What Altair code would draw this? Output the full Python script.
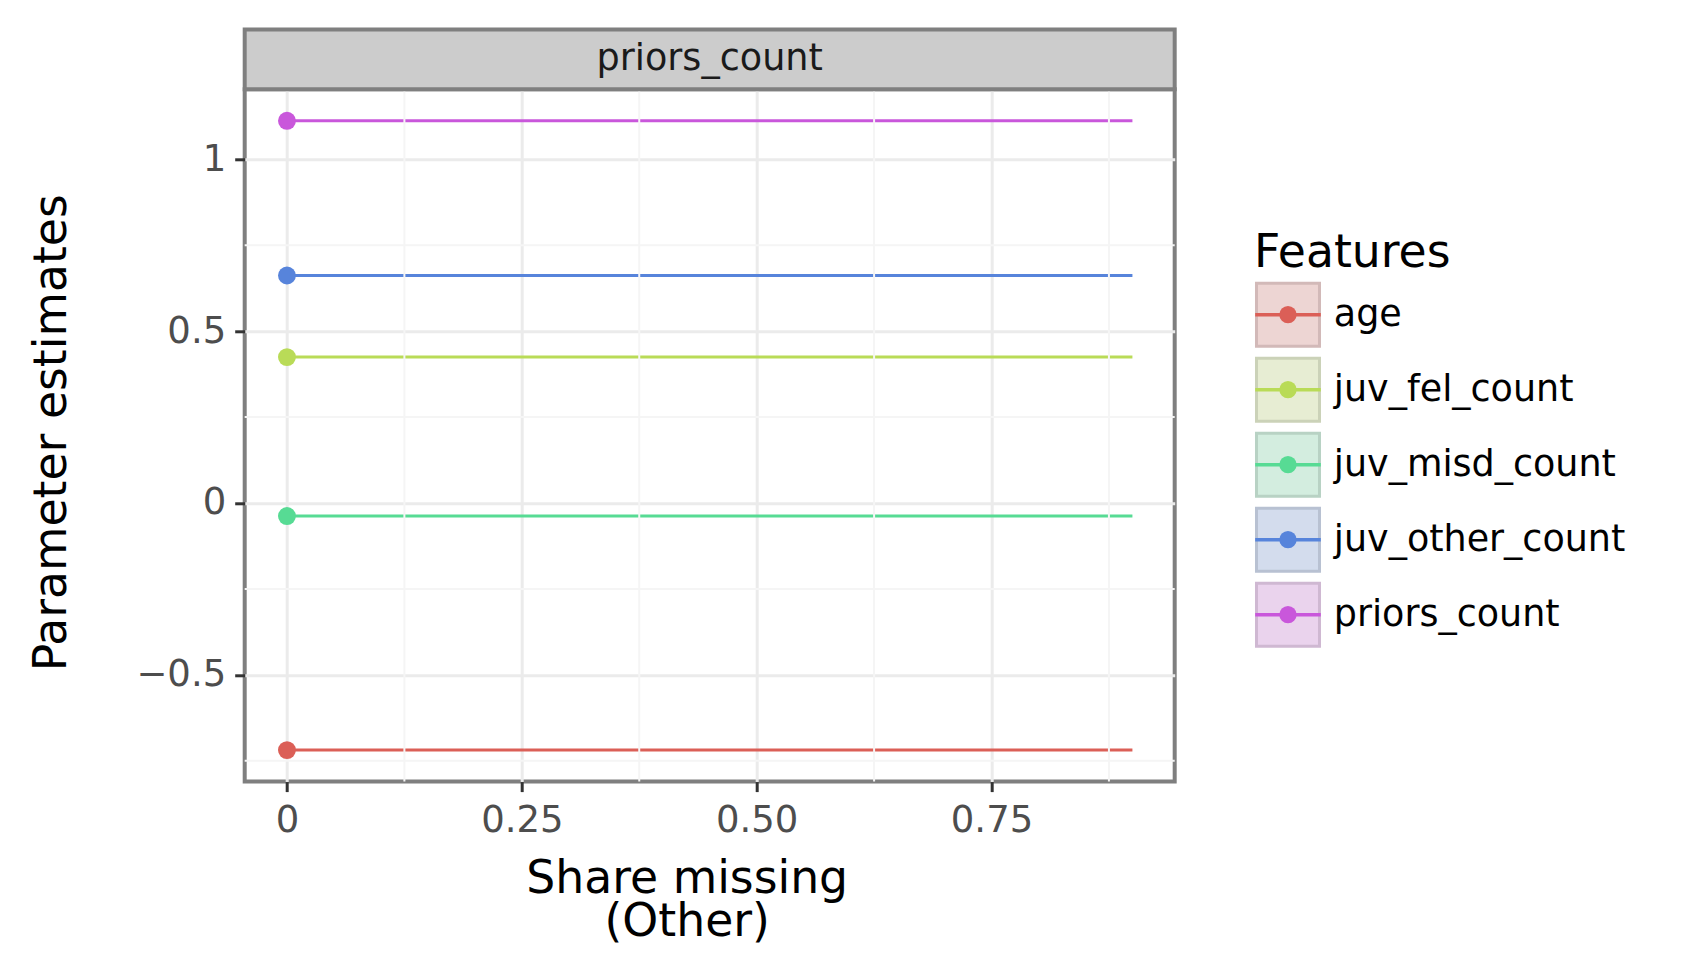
import altair as alt
import pandas as pd

# ---------------- data ----------------
features = ["age", "juv_fel_count", "juv_misd_count", "juv_other_count", "priors_count"]
estimates = [-0.719, 0.4245, -0.038, 0.662, 1.112]
share_start = [0.0, 0.0, 0.0, 0.0, 0.0]
share_end = [0.9, 0.9, 0.9, 0.9, 0.9]
colors = ["#db5f57", "#b9db57", "#57db94", "#5784db", "#c957db"]
facet_label = "priors_count"
legend_title = "Features"
x_ticks = [0, 0.25, 0.5, 0.75]
y_ticks = [-0.5, 0, 0.5, 1]
x_title = ["Share missing", "(Other)"]
y_title = "Parameter estimates"

# ---------------- helpers ----------------
def blend(hex_color, base, alpha):
    c = [int(hex_color[i:i + 2], 16) for i in (1, 3, 5)]
    b = [int(base[i:i + 2], 16) for i in (1, 3, 5)]
    m = [round(bb * (1 - alpha) + cc * alpha) for cc, bb in zip(c, b)]
    return "#%02x%02x%02x" % tuple(m)

rows = []
for f, e, s0, s1 in zip(features, estimates, share_start, share_end):
    rows.append({"feature": f, "share": s0, "estimate": e})
    rows.append({"feature": f, "share": s1, "estimate": e})
line_df = pd.DataFrame(rows)
point_df = pd.DataFrame({"feature": features, "share": share_start, "estimate": estimates})

x_dom = [-0.045, 0.945]
y_dom = [-0.8106, 1.2037]
xs = x_ticks[1] - x_ticks[0]
ys = y_ticks[1] - y_ticks[0]
x_minor = [t - xs / 2 for t in x_ticks] + [x_ticks[-1] + xs / 2]
x_minor = [v for v in x_minor if x_dom[0] < v < x_dom[1]]
y_minor = [t - ys / 2 for t in y_ticks] + [y_ticks[-1] + ys / 2]
y_minor = [v for v in y_minor if y_dom[0] < v < y_dom[1]]

legend_df = pd.DataFrame({
    "feature": features,
    "fill_hex": [blend(c, "#f2f2f2", 0.2) for c in colors],
    "stroke_hex": [blend(c, "#d0d0d0", 0.2) for c in colors],
})
strip_df = pd.DataFrame({"label": [facet_label]})
ltitle_df = pd.DataFrame({"label": [legend_title]})

W, H = 930, 692.3
FONT = "DejaVu Sans"
TITLE_FS = 45.7
TICK_FS = 37

color_enc = alt.Color("feature:N", scale=alt.Scale(domain=features, range=colors), legend=None)

x_enc = alt.X(
    "share:Q",
    scale=alt.Scale(domain=x_dom, nice=False, zero=False),
    axis=alt.Axis(
        values=x_ticks,
        labelExpr="datum.value == 0 ? '0' : format(datum.value, '.2f')",
        title=x_title, titleFontSize=TITLE_FS, titleFontWeight="normal", titleColor="#000000",
        titleLineHeight=43, titleX=442, titleY=110.5, titleBaseline="alphabetic",
        labelFontSize=TICK_FS, labelColor="#4d4d4d", labelPadding=11,
        tickColor="#333333", tickSize=10, tickWidth=3,
        domain=False, grid=True, gridColor="#ebebeb", gridWidth=3,
    ),
)
y_enc = alt.Y(
    "estimate:Q",
    scale=alt.Scale(domain=y_dom, nice=False, zero=False),
    axis=alt.Axis(
        values=y_ticks, format="~g",
        title=y_title, titleFontSize=TITLE_FS, titleFontWeight="normal", titleColor="#000000",
        titleX=-179.4, titleY=343, titleBaseline="alphabetic",
        labelFontSize=TICK_FS, labelColor="#4d4d4d", labelPadding=9,
        tickColor="#333333", tickSize=10, tickWidth=3,
        domain=False, grid=True, gridColor="#ebebeb", gridWidth=3,
    ),
)

minor_x = alt.Chart(pd.DataFrame({"share": x_minor})).mark_rule(
    color="#f5f5f5", strokeWidth=2
).encode(x=x_enc)
minor_y = alt.Chart(pd.DataFrame({"estimate": y_minor})).mark_rule(
    color="#f5f5f5", strokeWidth=2
).encode(y=y_enc)

lines = alt.Chart(line_df).mark_line(strokeWidth=3).encode(
    x=x_enc, y=y_enc, color=color_enc, detail="feature:N"
)
points = alt.Chart(point_df).mark_circle(size=320, opacity=1).encode(
    x=x_enc, y=y_enc, color=color_enc
)

strip_rect = alt.Chart(strip_df).mark_rect(
    fill="#cccccc", stroke="#7f7f7f", strokeWidth=4
).encode(x=alt.value(0), x2=alt.value(W), y=alt.value(-59.7), y2=alt.value(0))
strip_text = alt.Chart(strip_df).mark_text(
    fontSize=36.6, color="#1a1a1a", align="center", baseline="middle", font=FONT
).encode(x=alt.value(W / 2), y=alt.value(-30.5), text="label:N")

main = alt.layer(lines, points, minor_x, minor_y, strip_rect, strip_text)

# ---------------- legend (own scales) ----------------
ly = alt.Y("feature:N", scale=alt.Scale(type="point", domain=features,
                                        range=[225.4, 525.4], padding=0), axis=None)
leg_box = alt.Chart(legend_df).mark_square(size=3969, strokeWidth=3, opacity=1, filled=True).encode(
    x=alt.value(1043.3), y=ly,
    fill=alt.Fill("fill_hex:N", scale=None),
    stroke=alt.Stroke("stroke_hex:N", scale=None),
)
leg_line = alt.Chart(legend_df).mark_rule(strokeWidth=3.5).encode(
    x=alt.value(1010.5), x2=alt.value(1076.1), y=ly, color=color_enc
)
leg_pt = alt.Chart(legend_df).mark_circle(size=300, opacity=1).encode(
    x=alt.value(1043.3), y=ly, color=color_enc
)
leg_txt = alt.Chart(legend_df).mark_text(
    fontSize=36.5, color="#000000", align="left", baseline="middle", font=FONT
).encode(x=alt.value(1089.1), y=ly, text="feature:N")
leg_title = alt.Chart(ltitle_df).mark_text(
    fontSize=TITLE_FS, color="#000000", align="left", baseline="alphabetic", font=FONT
).encode(x=alt.value(1009.3), y=alt.value(177.4), text="label:N")

legend = alt.layer(leg_box, leg_line, leg_pt, leg_txt, leg_title)

chart = alt.layer(main, legend).resolve_scale(
    x="independent", y="independent"
).properties(
    width=W, height=H,
    autosize=alt.AutoSizeParams(type="none"),
    padding={"left": 236.7, "top": 81.3, "right": 520, "bottom": 180},
).configure(font=FONT).configure_view(stroke="#7f7f7f", strokeWidth=4)

chart.save("out.html", embed_options={"renderer": "svg", "actions": False})
